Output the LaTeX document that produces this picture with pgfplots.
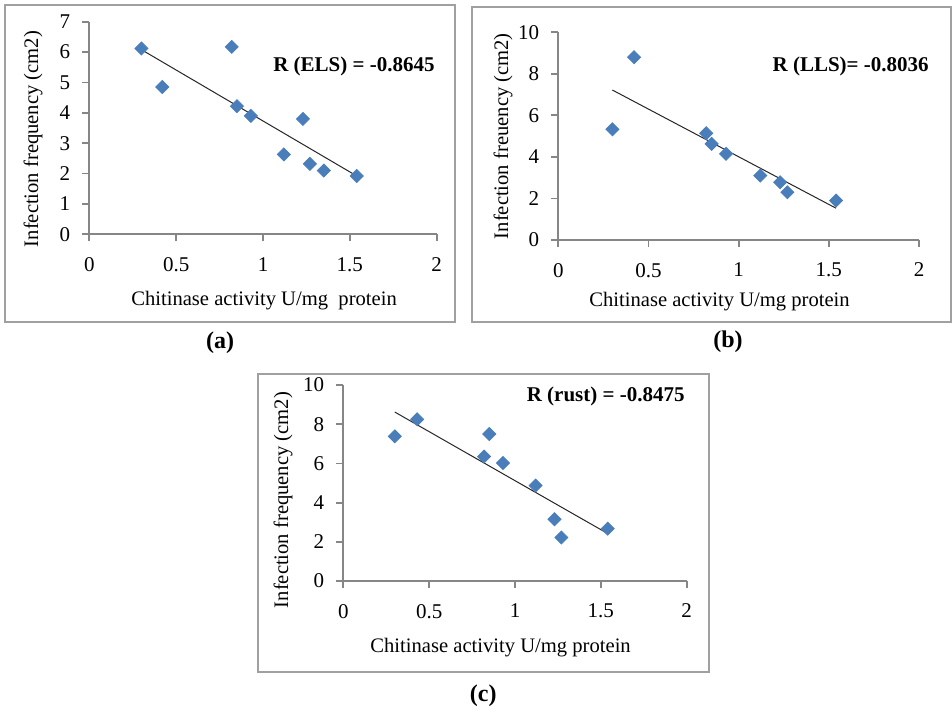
\documentclass[border=0pt]{standalone}
\usepackage{fontspec}
\setmainfont{Liberation Serif}
\usepackage{pgfplots}
\pgfplotsset{compat=1.18}

\definecolor{markblue}{RGB}{74,126,187}
\definecolor{axisgray}{RGB}{134,134,134}
\definecolor{framegray}{RGB}{160,160,160}

\tikzset{rlab/.style={anchor=east, inner sep=0pt, font=\fontsize{10.5}{12}\selectfont\bfseries}}

\pgfplotsset{
  panel/.style={
    anchor=south west,
    scale only axis,
    xmin=0, xmax=2, ymin=0,
    xtick={0,0.5,1,1.5,2},
    axis x line=bottom, axis y line=left,
    axis line style={-, axisgray, line width=0.9pt},
    tick style={axisgray, line width=0.9pt},
    tick align=outside,
    major tick length=3.5pt,
    tick label style={font=\fontsize{10.5}{12}\selectfont},
    xticklabel style={yshift=-4.5pt},
    yticklabel style={xshift=-2.5pt},
    /pgf/number format/assume math mode=true,
    label style={font=\fontsize{10.3}{12}\selectfont},
    xlabel style={anchor=center},
    ylabel style={anchor=center, rotate=0},
    clip=false,
  },
  pts/.style={only marks, mark=square*, mark size=2.3pt,
    mark options={rotate=45, fill=markblue, draw=markblue}},
  trend/.style={black!85, line width=0.5pt, no marks},
}

\begin{document}
\begin{tikzpicture}
\useasboundingbox (0,0) rectangle (476pt,354.5pt);

% frames
\draw[framegray, line width=1pt] (2.5pt,193.65pt) rectangle (227.5pt,352pt);
\draw[framegray, line width=1pt] (235.85pt,193.65pt) rectangle (475.5pt,351.15pt);
\draw[framegray, line width=1pt] (128.85pt,18.65pt) rectangle (354.65pt,167.5pt);

% (a)
\begin{axis}[panel,
  at={(44.65pt,237.35pt)}, width=173.7pt, height=106.3pt,
  ymax=7, ytick={0,1,...,7},
  xlabel={Chitinase activity U/mg\ \ protein},
  ylabel={Infection frequency (cm2)},
  xlabel style={at={(axis description cs:0.503,-0.314)}},
  ylabel style={at={(axis description cs:-0.162,0.448)}},
]
\addplot[pts] coordinates {(0.30,6.12)(0.42,4.85)(0.82,6.17)(0.85,4.22)(0.93,3.90)
  (1.12,2.63)(1.23,3.80)(1.27,2.32)(1.35,2.10)(1.54,1.92)};
\addplot[trend] coordinates {(0.30,6.08)(1.54,1.92)};
\node[rlab] at (axis description cs:0.995,0.788) {R (ELS) = -0.8645};
\end{axis}

% (b)
\begin{axis}[panel,
  at={(279.15pt,234.5pt)}, width=180.35pt, height=103.85pt,
  ymax=10, ytick={0,2,...,10},
  xlabel={Chitinase activity U/mg protein},
  ylabel={Infection freuency (cm2)},
  xlabel style={at={(axis description cs:0.447,-0.297)}},
  ylabel style={at={(axis description cs:-0.153,0.50)}},
]
\addplot[pts] coordinates {(0.30,5.33)(0.42,8.80)(0.82,5.14)(0.85,4.63)(0.93,4.15)
  (1.12,3.10)(1.23,2.78)(1.27,2.30)(1.54,1.90)};
\addplot[trend] coordinates {(0.30,7.22)(1.54,1.53)};
\node[rlab] at (axis description cs:1.028,0.834) {R (LLS)= -0.8036};
\end{axis}

% (c)
\begin{axis}[panel,
  at={(171.65pt,64pt)}, width=171.7pt, height=98pt,
  ymax=10, ytick={0,2,...,10},
  xlabel={Chitinase activity U/mg protein},
  ylabel={Infection frequency (cm2)},
  xlabel style={at={(axis description cs:0.458,-0.338)}},
  ylabel style={at={(axis description cs:-0.175,0.413)}},
]
\addplot[pts] coordinates {(0.30,7.38)(0.43,8.25)(0.82,6.35)(0.85,7.50)(0.93,6.02)
  (1.12,4.87)(1.23,3.15)(1.27,2.22)(1.54,2.67)};
\addplot[trend] coordinates {(0.30,8.62)(1.54,2.42)};
\node[rlab] at (axis description cs:0.995,0.944) {R (rust) = -0.8475};
\end{axis}

% panel letters
\node[font=\fontsize{12}{14}\selectfont\bfseries] at (110pt,183pt) {(a)};
\node[font=\fontsize{12}{14}\selectfont\bfseries] at (364pt,183.5pt) {(b)};
\node[font=\fontsize{12}{14}\selectfont\bfseries] at (241.65pt,6.5pt) {(c)};
\end{tikzpicture}
\end{document}
